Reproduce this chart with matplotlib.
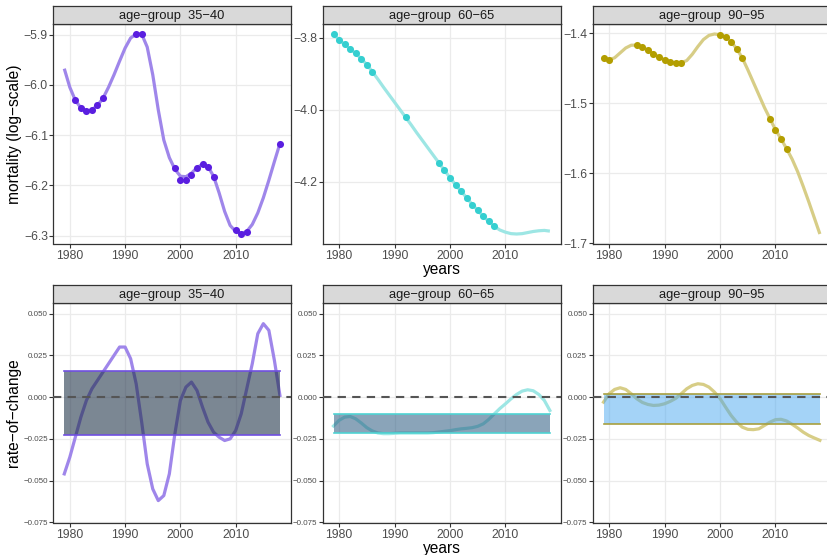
import matplotlib
matplotlib.use("Agg")
import matplotlib.pyplot as plt
from matplotlib.ticker import FuncFormatter
import numpy as np

plt.rcParams['font.family'] = ['Liberation Sans', 'DejaVu Sans']

years = np.arange(1979, 2019)
groups = ['35\u221240', '60\u221265', '90\u221295']

# fitted log-mortality curves
fit_35 = [-5.968, -6.005, -6.031, -6.046, -6.053, -6.050, -6.041, -6.027, -6.005, -5.980,
          -5.953, -5.927, -5.907, -5.899, -5.899, -5.925, -5.980, -6.050, -6.110, -6.145,
          -6.168, -6.182, -6.183, -6.176, -6.165, -6.158, -6.163, -6.182, -6.215, -6.252,
          -6.280, -6.292, -6.296, -6.292, -6.278, -6.255, -6.225, -6.190, -6.153, -6.117]
fit_60 = [-3.789, -3.805, -3.818, -3.831, -3.843, -3.858, -3.874, -3.894, -3.915, -3.937,
          -3.958, -3.979, -4.000, -4.021, -4.042, -4.064, -4.085, -4.106, -4.127, -4.148,
          -4.169, -4.189, -4.209, -4.227, -4.245, -4.264, -4.280, -4.297, -4.311, -4.325,
          -4.335, -4.341, -4.345, -4.346, -4.345, -4.342, -4.339, -4.337, -4.336, -4.338]
fit_90 = [-1.436, -1.438, -1.435, -1.428, -1.421, -1.417, -1.417, -1.420, -1.424, -1.429,
          -1.434, -1.438, -1.441, -1.442, -1.442, -1.439, -1.430, -1.419, -1.409, -1.403,
          -1.401, -1.402, -1.405, -1.412, -1.422, -1.435, -1.452, -1.470, -1.488, -1.506,
          -1.522, -1.538, -1.551, -1.565, -1.580, -1.598, -1.619, -1.641, -1.664, -1.687]

# observed points
pts_yr_35 = [1981, 1982, 1983, 1984, 1985, 1986, 1992, 1993, 1999, 2000, 2001, 2002,
             2003, 2004, 2005, 2006, 2010, 2011, 2012, 2018]
pts_35 = [-6.031, -6.046, -6.053, -6.050, -6.041, -6.027, -5.899, -5.899, -6.166, -6.189,
          -6.189, -6.179, -6.165, -6.157, -6.163, -6.183, -6.289, -6.297, -6.293, -6.117]
pts_yr_60 = [1979, 1980, 1981, 1982, 1983, 1984, 1985, 1986, 1992, 1998, 1999, 2000,
             2001, 2002, 2003, 2004, 2005, 2006, 2007, 2008]
pts_60 = [-3.789, -3.805, -3.818, -3.831, -3.843, -3.858, -3.874, -3.894, -4.021, -4.148,
          -4.169, -4.189, -4.209, -4.227, -4.245, -4.264, -4.280, -4.297, -4.311, -4.325]
pts_yr_90 = [1979, 1980, 1985, 1986, 1987, 1988, 1989, 1990, 1991, 1992, 1993, 2000,
             2001, 2002, 2003, 2004, 2009, 2010, 2011, 2012]
pts_90 = [-1.436, -1.438, -1.417, -1.420, -1.424, -1.429, -1.434, -1.438, -1.441, -1.442,
          -1.442, -1.402, -1.405, -1.412, -1.422, -1.435, -1.522, -1.538, -1.551, -1.565]

# rate of change
roc_35 = [-0.046, -0.036, -0.024, -0.012, -0.002, 0.005, 0.010, 0.015, 0.020, 0.025,
          0.030, 0.030, 0.023, 0.008, -0.015, -0.040, -0.055, -0.062, -0.059, -0.046,
          -0.022, -0.002, 0.006, 0.009, 0.004, -0.006, -0.015, -0.021, -0.024, -0.026,
          -0.025, -0.020, -0.010, 0.005, 0.020, 0.038, 0.044, 0.040, 0.022, 0.001]
roc_60 = [-0.0173, -0.0139, -0.0120, -0.0116, -0.0130, -0.0155, -0.0183, -0.0203, -0.0215, -0.0219,
          -0.0219, -0.0217, -0.0215, -0.0215, -0.0215, -0.0215, -0.0215, -0.0215, -0.0213, -0.0209,
          -0.0205, -0.0201, -0.0195, -0.0190, -0.0187, -0.0183, -0.0175, -0.0160, -0.0133, -0.0100,
          -0.0068, -0.0040, -0.0010, 0.0016, 0.0036, 0.0044, 0.0038, 0.0016, -0.0020, -0.0080]
roc_90 = [-0.0030, 0.0020, 0.0046, 0.0056, 0.0046, 0.0020, -0.0010, -0.0032, -0.0044, -0.0050,
          -0.0048, -0.0040, -0.0026, -0.0008, 0.0020, 0.0050, 0.0070, 0.0080, 0.0076, 0.0060,
          0.0030, -0.0008, -0.0060, -0.0110, -0.0150, -0.0180, -0.0193, -0.0195, -0.0190, -0.0170,
          -0.0150, -0.0135, -0.0133, -0.0143, -0.0163, -0.0185, -0.0210, -0.0230, -0.0245, -0.0259]

# interval band (low, high)
band_lo = [-0.0227, -0.0213, -0.0159]
band_hi = [0.0157, -0.0104, 0.0018]

fits = [fit_35, fit_60, fit_90]
pts_x = [pts_yr_35, pts_yr_60, pts_yr_90]
pts_y = [pts_35, pts_60, pts_90]
rocs = [roc_35, roc_60, roc_90]
top_ticks = [[-6.3, -6.2, -6.1, -6.0, -5.9], [-4.2, -4.0, -3.8], [-1.7, -1.6, -1.5, -1.4]]

line_cols = ['#9f86ea', '#9de6e4', '#d7cd86']
pt_cols = ['#5a1ee0', '#35cfd0', '#b39e00']
band_fill = [('#1c3046', 0.58), ('#2a5a80', 0.55), ('#4aa8f0', 0.5)]
band_edge = ['#6f4fe0', '#4fd3d3', '#a8a040']

W, H = 828, 555
cols = [(53.5, 290.7), (322.7, 560.7), (592.7, 830.7)]


def rect(x0, y0, x1, y1):
    return [x0 / W, 1 - y1 / H, (x1 - x0) / W, (y1 - y0) / H]


def minus(fmt):
    return FuncFormatter(lambda v, p: (fmt % v).replace('-', '\u2212'))


def style(ax, ysize):
    ax.set_facecolor('white')
    ax.grid(True, color='#ebebeb', linewidth=0.9)
    ax.set_axisbelow(True)
    for s in ax.spines.values():
        s.set_color('#333333')
        s.set_linewidth(0.9)
    ax.tick_params(axis='both', length=3, width=0.8, color='#333333', labelcolor='#4d4d4d', pad=1.0)
    ax.tick_params(axis='x', labelsize=8.7)
    ax.tick_params(axis='y', labelsize=ysize)
    ax.set_xticks([1980, 1990, 2000, 2010])
    ax.set_xlim(1977.05, 2019.95)


def strip(x0, x1, y0, y1, label):
    s = fig.add_axes(rect(x0, y0, x1, y1))
    s.set_facecolor('#d9d9d9')
    s.set_xticks([])
    s.set_yticks([])
    for sp in s.spines.values():
        sp.set_color('#333333')
        sp.set_linewidth(0.9)
    s.text(0.5, 0.45, 'age\u2212group  ' + label, ha='center', va='center',
           fontsize=9.3, color='#1a1a1a', transform=s.transAxes)


fig = plt.figure(figsize=(W / 100, H / 100), dpi=100)

for i in range(3):
    x0, x1 = cols[i]
    # top row: fitted mortality
    ax = fig.add_axes(rect(x0, 24, x1, 244))
    style(ax, 8.8)
    ax.plot(years, fits[i], color=line_cols[i], linewidth=2.3, solid_capstyle='butt', zorder=2)
    ax.scatter(pts_x[i], pts_y[i], s=26, color=pt_cols[i], zorder=3, linewidths=0)
    allv = np.concatenate([fits[i], pts_y[i]])
    pad = 0.05 * (allv.max() - allv.min())
    ax.set_ylim(allv.min() - pad, allv.max() + pad)
    ax.set_yticks(top_ticks[i])
    ax.yaxis.set_major_formatter(minus('%.1f'))
    strip(x0, x1, 6, 24, groups[i])

    # bottom row: rate of change
    ax2 = fig.add_axes(rect(x0, 303.3, x1, 523.3))
    style(ax2, 5.8)
    ax2.plot(years, rocs[i], color=line_cols[i], linewidth=2.3, zorder=2)
    fc, a = band_fill[i]
    ax2.fill_between(years, band_lo[i], band_hi[i], color=fc, alpha=a, linewidth=0, zorder=3)
    ax2.plot([years[0], years[-1]], [band_lo[i], band_lo[i]], color=band_edge[i], linewidth=1.2, zorder=4)
    ax2.plot([years[0], years[-1]], [band_hi[i], band_hi[i]], color=band_edge[i], linewidth=1.2, zorder=4)
    ax2.axhline(0, color='#555555', linewidth=1.5, linestyle=(0, (4, 3)), zorder=5)
    ax2.set_ylim(-0.0756, 0.0562)
    ax2.set_yticks([-0.075, -0.05, -0.025, 0.0, 0.025, 0.05])
    ax2.yaxis.set_major_formatter(minus('%.3f'))
    strip(x0, x1, 285, 303.3, groups[i])

fig.text(15 / W, 1 - 134 / H, 'mortality (log\u2212scale)', rotation=90, ha='center', va='center',
         fontsize=11.2, color='black')
fig.text(14 / W, 1 - 413 / H, 'rate\u2212of\u2212change', rotation=90, ha='center', va='center',
         fontsize=11.2, color='black')
fig.text(441.7 / W, 1 - 269.5 / H, 'years', ha='center', va='center', fontsize=11.2, color='black')
fig.text(441.7 / W, 1 - 548 / H, 'years', ha='center', va='center', fontsize=11.2, color='black')

fig.savefig('out.png', dpi=100, facecolor='white')
